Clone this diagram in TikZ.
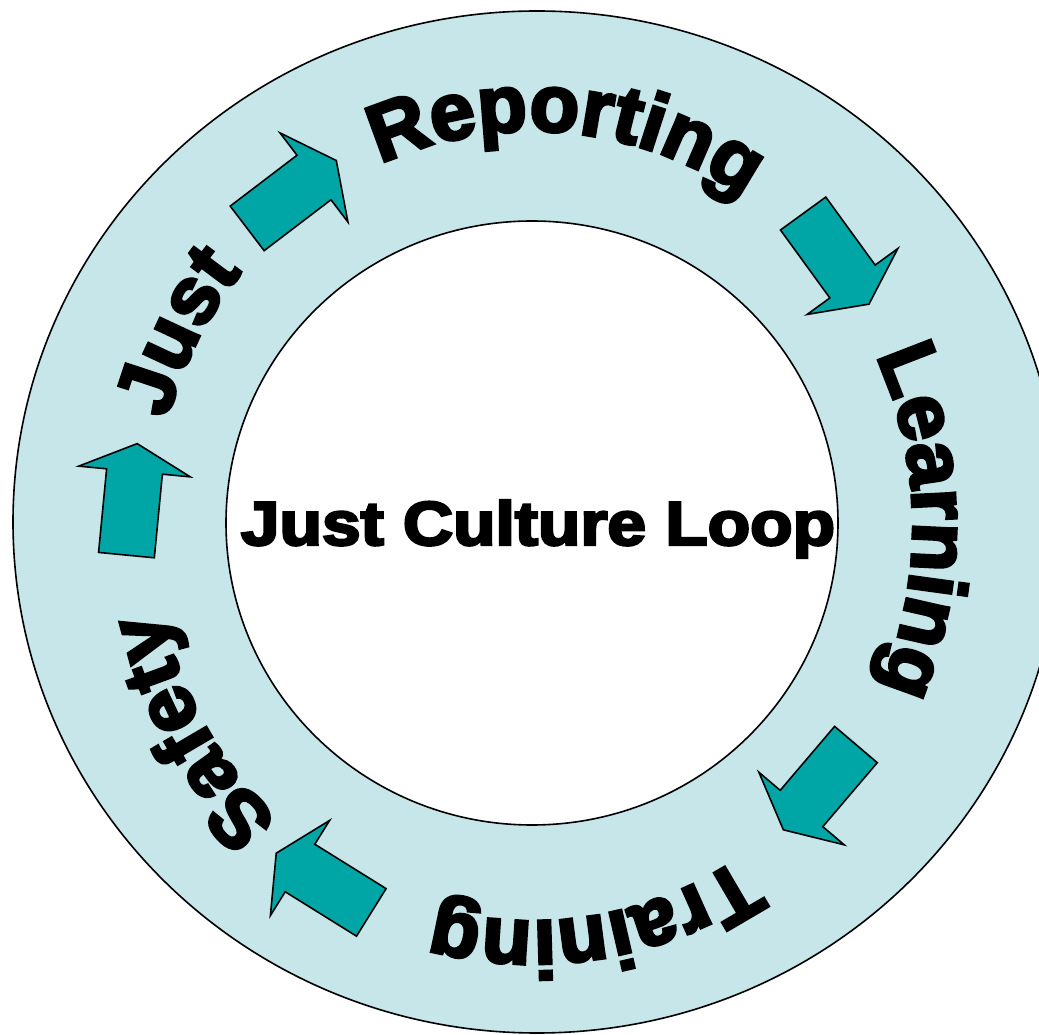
\documentclass[tikz,border=0pt]{standalone}
\usepackage{fontspec}
\newfontfamily\loopFont[BoldFeatures={FakeBold=4}]{Liberation Sans}
\usetikzlibrary{decorations.text}
\definecolor{ringBlue}{RGB}{198,230,234}
\definecolor{arrowTeal}{RGB}{0,166,166}

\begin{document}
\begin{tikzpicture}[x=1pt, y=1pt,
  ringWord/.style={decorate, decoration={text along path, text align=center,
    text={|\loopFont\bfseries\fontsize{81}{81}\selectfont|#1}}},
  loopArrow/.style={fill=arrowTeal, draw=black, line width=1.6pt, line join=miter}]
  \newcommand{\drawLoopArrow}[3]{
    \draw[loopArrow, shift={(#1,#2)}, rotate=#3]
      (-84,-28) -- (0,-28) -- (0,-56) -- (28,0) -- (0,56) -- (0,28) -- (-84,28) -- cycle;
  }
  \newcommand{\drawRingWord}[2]{
    \path[ringWord={#2}] ([shift={(ringCenter)}] #1+40:380 and 395)
      arc[start angle=#1+40, end angle=#1-40, x radius=380, y radius=395];
  }

  \useasboundingbox (0,0) rectangle (1039,1034);
  \coordinate (ringCenter) at (533,508);

  \draw[fill=ringBlue, line width=1.6pt] (537,512) ellipse [x radius=524, y radius=511];
  \draw[fill=white, line width=1.6pt] (532,511) ellipse [x radius=306, y radius=302];

  \node[font=\loopFont\bfseries\fontsize{62}{62}\selectfont, xscale=1.12, anchor=base]
    (loopTitle) at (538,489) {Just Culture Loop};

  \drawRingWord{85}{Reporting}
  \drawRingWord{0.7}{Learning}
  \drawRingWord{-81}{Training}
  \drawRingWord{-149.5}{Safety}
  \drawRingWord{151.8}{Just}

  \drawLoopArrow{314}{856.5}{37.3}
  \drawLoopArrow{852.5}{752.5}{-54}
  \drawLoopArrow{801.5}{225.5}{-130.4}
  \drawLoopArrow{300}{166}{148.1}
  \drawLoopArrow{134.5}{562.5}{84.5}
\end{tikzpicture}
\end{document}
